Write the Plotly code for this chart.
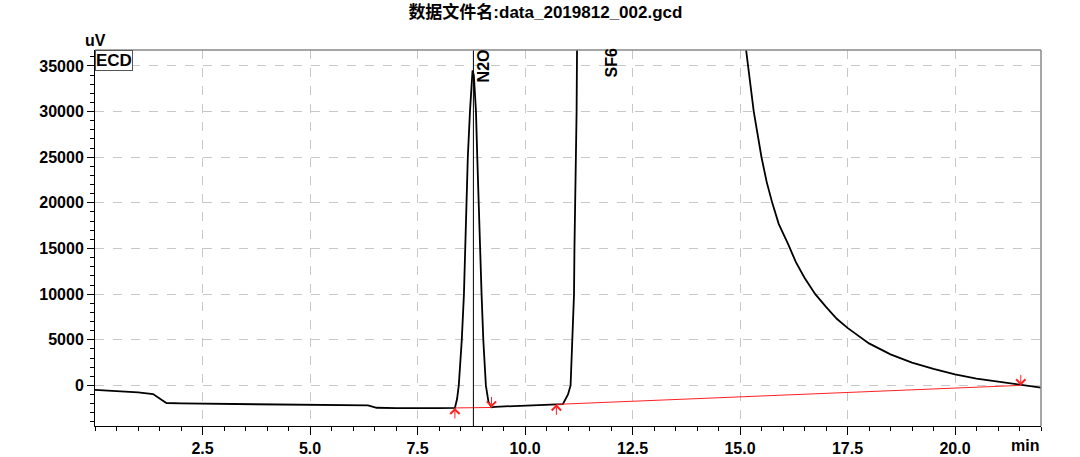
import plotly.graph_objects as go

# ---- data ----
title_text = "数据文件名:data_2019812_002.gcd"
detector = "ECD"
y_unit = "uV"
x_unit = "min"

time_min = [0.0, 0.5, 1.0, 1.35, 1.5, 1.66, 2.0, 2.5, 3.5, 5.0, 6.2, 6.35, 6.55, 7.0, 8.0,
            8.37, 8.42, 8.46, 8.53, 8.58, 8.61, 8.64, 8.67, 8.72, 8.76, 8.78, 8.81, 8.86,
            8.89, 8.92, 8.95, 8.99, 9.03, 9.09, 9.15, 9.22, 9.3, 10.0, 10.5, 10.73, 10.88,
            11.0, 11.06, 11.10, 11.14, 11.15, 11.17, 11.19, 11.20, 11.21, 11.3, 12.0, 14.0,
            15.05, 15.15, 15.19, 15.32, 15.5, 15.62, 15.75, 15.9, 16.13, 16.3, 16.5, 16.75,
            17.0, 17.25, 17.5, 17.75, 18.0, 18.5, 19.0, 19.5, 20.0, 20.5, 21.0, 21.53, 22.0]
signal_uv = [-500, -620, -760, -950, -1400, -1930, -1980, -2000, -2030, -2100, -2150, -2200,
             -2450, -2500, -2500,
             -2470, -1500, 0, 5000, 10000, 15000, 20000, 25000, 30000, 34000, 34500, 34000,
             30000, 25000, 20000, 15000, 10000, 5000, 0, -1800, -2400, -2350, -2250, -2150,
             -2080, -2050, -1000, 0, 5000, 10000, 15000, 20000, 25000, 30000, 36800, 60000,
             250000, 80000, 40000, 36750, 35000, 30000, 25000, 22300, 20000, 17700, 15360,
             13500, 11800, 10000, 8600, 7300, 6300, 5400, 4600, 3400, 2500, 1800, 1200, 750,
             400, 0, -250]

peak_names = ["N2O", "SF6"]
peak_label_time = [8.8, 12.0]
n2o_marker_time = 8.8

# integration baselines: (start, end)
base_times = [[8.37, 9.22], [10.73, 21.53]]
base_values = [[-2470, -2420], [-2080, 0]]

x_ticks = [2.5, 5.0, 7.5, 10.0, 12.5, 15.0, 17.5, 20.0]
x_ticktext = ["2.5", "5.0", "7.5", "10.0", "12.5", "15.0", "17.5", "20.0"]
y_ticks = [0, 5000, 10000, 15000, 20000, 25000, 30000, 35000]
y_ticktext = ["0", "5000", "10000", "15000", "20000", "25000", "30000", "35000"]
x_range = [0, 22]
y_range = [-4450, 36750]

FONT = "Liberation Sans, Arial, Noto Sans CJK SC, sans-serif"

fig = go.Figure()

fig.add_trace(go.Scatter(x=time_min, y=signal_uv, mode="lines",
                         line=dict(color="black", width=1.8), showlegend=False,
                         hoverinfo="skip"))

for bt, bv in zip(base_times, base_values):
    fig.add_trace(go.Scatter(x=bt, y=bv, mode="lines",
                             line=dict(color="#ff2020", width=1), showlegend=False,
                             hoverinfo="skip"))

annotations = []
for bt, bv in zip(base_times, base_values):
    annotations.append(dict(x=bt[0], y=bv[0], xref="x", yref="y", text="", showarrow=True,
                            ax=0, ay=12, arrowhead=4, arrowsize=1.8, arrowwidth=1,
                            arrowcolor="#ff2020"))
    annotations.append(dict(x=bt[1], y=bv[1], xref="x", yref="y", text="", showarrow=True,
                            ax=0, ay=-12, arrowhead=4, arrowsize=1.8, arrowwidth=1,
                            arrowcolor="#ff2020"))

for name, t in zip(peak_names, peak_label_time):
    annotations.append(dict(x=t, y=1, xref="x", yref="paper", text="<b>%s</b>" % name,
                            textangle=-90, showarrow=False,
                            xanchor="left" if name == "N2O" else "center",
                            yanchor="top", xshift=0, yshift=3,
                            font=dict(family=FONT, size=16, color="black")))

annotations.append(dict(x=0, y=1, xref="paper", yref="paper", text="<b>%s</b>" % detector,
                        showarrow=False, xanchor="left", yanchor="top",
                        bordercolor="#555555", borderwidth=1, borderpad=0, bgcolor="white",
                        font=dict(family=FONT, size=17, color="black")))
annotations.append(dict(x=0, y=1, xref="paper", yref="paper", text="<b>%s</b>" % y_unit,
                        showarrow=False, xanchor="center", yanchor="bottom", xshift=0, yshift=-1,
                        font=dict(family=FONT, size=16, color="black")))
annotations.append(dict(x=1, y=0, xref="paper", yref="paper", text="<b>%s</b>" % x_unit,
                        showarrow=False, xanchor="right", yanchor="top", yshift=-9,
                        font=dict(family=FONT, size=16, color="black")))

shapes = [
    dict(type="line", xref="x", yref="paper", x0=n2o_marker_time, x1=n2o_marker_time,
         y0=0, y1=1, line=dict(color="black", width=1)),
    dict(type="line", xref="paper", yref="paper", x0=0, x1=1, y0=1, y1=1,
         line=dict(color="#888888", width=1.5)),
    dict(type="line", xref="paper", yref="paper", x0=1, x1=1, y0=0, y1=1,
         line=dict(color="#888888", width=1.5)),
]

fig.update_layout(
    width=1080, height=457,
    margin=dict(l=95, r=39, t=50, b=31, autoexpand=False),
    paper_bgcolor="white", plot_bgcolor="white",
    title=dict(text="<b>%s</b>" % title_text, x=0.505, xanchor="center",
               y=0.974, yref="container", yanchor="middle",
               font=dict(family=FONT, size=17, color="black")),
    annotations=annotations, shapes=shapes,
    xaxis=dict(range=x_range, tickmode="array", tickvals=x_ticks, ticktext=x_ticktext,
               automargin=False,
               ticks="outside", ticklen=8, tickcolor="black", tickwidth=1,
               showline=True, linecolor="black", linewidth=1, zeroline=False,
               showgrid=True, gridcolor="#c8c8c8", griddash="dash", gridwidth=1,
               tickfont=dict(family=FONT, size=16, color="black", weight="bold"),
               minor=dict(tickmode="linear", tick0=0, dtick=0.5, ticks="outside", ticklen=4,
                          tickcolor="black", showgrid=False)),
    yaxis=dict(range=y_range, tickmode="array", tickvals=y_ticks, ticktext=y_ticktext,
               automargin=False,
               ticks="outside", ticklen=7, tickcolor="black", tickwidth=1,
               showline=True, linecolor="black", linewidth=1, zeroline=False,
               showgrid=True, gridcolor="#c8c8c8", griddash="dash", gridwidth=1,
               tickfont=dict(family=FONT, size=16, color="black", weight="bold"),
               minor=dict(tickmode="linear", tick0=0, dtick=1000, ticks="outside", ticklen=4,
                          tickcolor="black", showgrid=False)),
)

# remove the browser's default 8px body margin so the figure fills the window exactly
fig.write_html("out.html", config={"displayModeBar": False},
               post_script="document.body.style.margin='0';")
